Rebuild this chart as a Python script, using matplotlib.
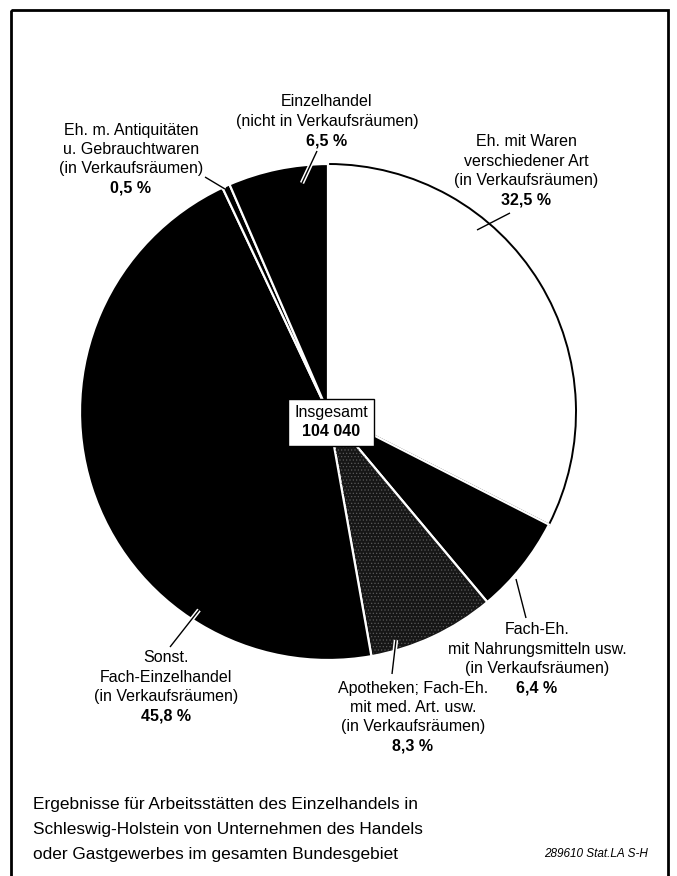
import matplotlib
matplotlib.use('Agg')
import matplotlib.pyplot as plt
from matplotlib.patches import Wedge, Rectangle
import matplotlib.patheffects as pe

plt.rcParams['font.family'] = ['Liberation Sans', 'DejaVu Sans']
plt.rcParams['hatch.linewidth'] = 0.5

# =========================
# Daten
# =========================
shares = [32.5, 6.4, 8.3, 45.8, 0.5, 6.5]
share_labels = ['32,5 %', '6,4 %', '8,3 %', '45,8 %', '0,5 %', '6,5 %']
categories = [
    ['Eh. mit Waren', 'verschiedener Art', '(in Verkaufsräumen)'],
    ['Fach-Eh.', 'mit Nahrungsmitteln usw.', '(in Verkaufsräumen)'],
    ['Apotheken; Fach-Eh.', 'mit med. Art. usw.', '(in Verkaufsräumen)'],
    ['Sonst.', 'Fach-Einzelhandel', '(in Verkaufsräumen)'],
    ['Eh. m. Antiquitäten', 'u. Gebrauchtwaren', '(in Verkaufsräumen)'],
    ['Einzelhandel', '(nicht in Verkaufsräumen)'],
]
total_label = '104 040'
fills = ['white', 'black', '#161616', 'black', 'black', 'black']

W, H = 677, 876
fig = plt.figure(figsize=(W / 100, H / 100), dpi=100)
ax = fig.add_axes([0, 0, 1, 1])

# Pixelkoordinaten, y nach unten -> startangle/Richtung entsprechend gespiegelt
wedges, _ = ax.pie(
    shares,
    colors=fills,
    center=(328, 412),
    radius=248,
    startangle=-90,
    counterclock=True,
    frame=True,
    wedgeprops=dict(edgecolor='white', linewidth=1.6),
)
ax.set_xlim(0, W)
ax.set_ylim(H, 0)
ax.set_aspect('equal')
ax.axis('off')

# weisses Segment mit schwarzem Rand
wedges[0].set_edgecolor('black')
wedges[0].set_linewidth(1.4)
wedges[0].set_zorder(0.9)

# Raster fuer Apotheken-Segment
w = wedges[2]
ax.add_patch(Wedge(w.center, w.r - 2, w.theta1 + 0.6, w.theta2 - 0.6,
                   facecolor='none', edgecolor='#5a5a5a', linewidth=0,
                   hatch='.....'))

# =========================
# Beschriftungen
# =========================
label_pos = [(526, 142), (537, 630), (413, 688), (166, 658), (131, 130), (327, 102)]
leaders = [
    [(510, 213), (477, 230)],
    [(526, 618), (516, 579)],
    [(392, 674), (396, 640)],
    [(170, 647), (199, 610)],
    [(205, 177), (225, 189)],
    [(317, 151), (302, 183)],
]
LS = 19.3
FS = 11.5
for lines, pct, (x, y0), seg, fc in zip(categories, share_labels, label_pos,
                                        leaders, fills):
    for i, t in enumerate(lines):
        ax.text(x, y0 + i * LS, t, ha='center', va='center', fontsize=FS)
    ax.text(x, y0 + len(lines) * LS, pct, ha='center', va='center',
            fontsize=FS, fontweight='bold')
    (x1, y1), (x2, y2) = seg
    effects = [] if fc == 'white' else [pe.Stroke(linewidth=3.2, foreground='white'),
                                        pe.Normal()]
    ax.plot([x1, x2], [y1, y2], color='black', lw=1, solid_capstyle='butt',
            path_effects=effects, zorder=5)

# Gesamtzahl in der Mitte
ax.add_patch(Rectangle((288, 399), 86, 47, facecolor='white', edgecolor='black',
                       lw=1, zorder=6))
ax.text(331, 412, 'Insgesamt', ha='center', va='center', fontsize=FS, zorder=7)
ax.text(331, 431, total_label, ha='center', va='center', fontsize=FS,
        fontweight='bold', zorder=7)

# Fussnote
note = ['Ergebnisse für Arbeitsstätten des Einzelhandels in',
        'Schleswig-Holstein von Unternehmen des Handels',
        'oder Gastgewerbes im gesamten Bundesgebiet']
for i, t in enumerate(note):
    ax.text(33, 805 + i * 24.5, t, ha='left', va='center', fontsize=12.4)
ax.text(648, 854, '289610 Stat.LA S-H', ha='right', va='center',
        fontsize=8.5, style='italic')

# Rahmen
ax.add_patch(Rectangle((11, 10), 657, 870, facecolor='none', edgecolor='black',
                       lw=2, zorder=8))

fig.savefig('out.png', dpi=100)
